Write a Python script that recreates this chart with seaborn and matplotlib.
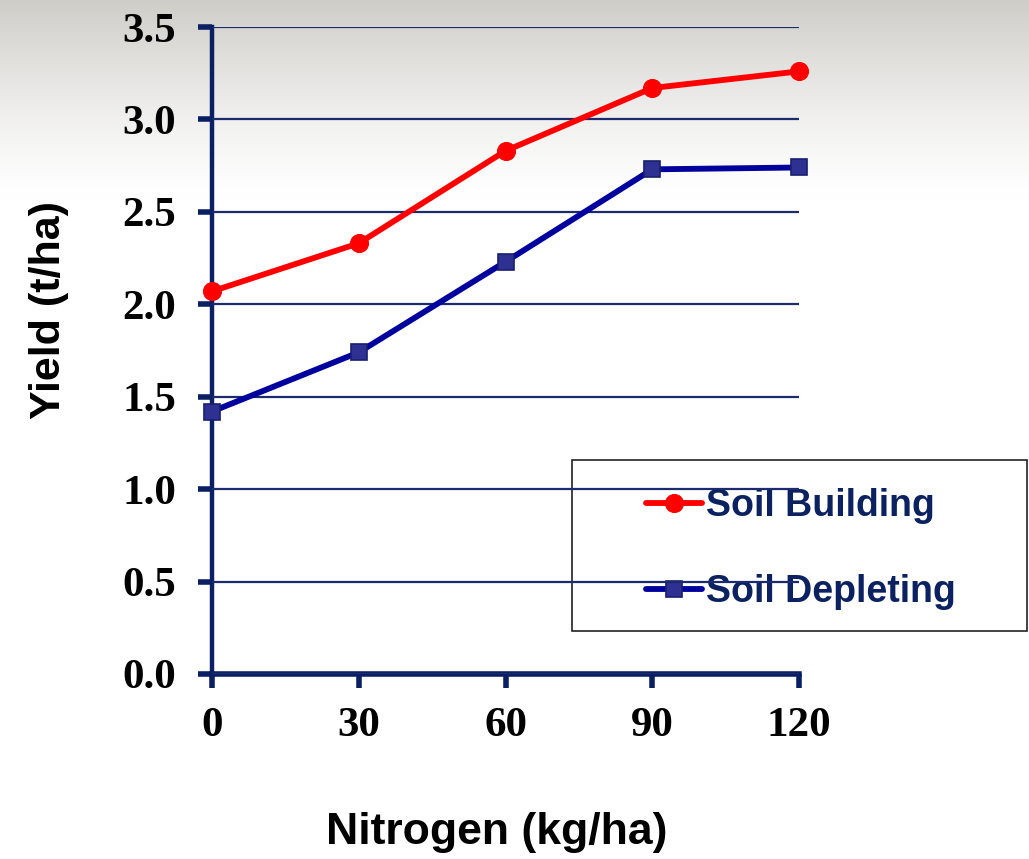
import numpy as np
import pandas as pd
import matplotlib
matplotlib.use("Agg")
import matplotlib.pyplot as plt
from matplotlib.patches import Rectangle
import seaborn as sns

# Grain yield response to nitrogen rate
nitrogen = [0, 30, 60, 90, 120]
soil_building = [2.07, 2.33, 2.83, 3.17, 3.26]
soil_depleting = [1.42, 1.74, 2.23, 2.73, 2.74]
series_names = ["Soil Building", "Soil Depleting"]
x_ticks = [0, 30, 60, 90, 120]
y_ticks = [0.0, 0.5, 1.0, 1.5, 2.0, 2.5, 3.0, 3.5]

df_building = pd.DataFrame({"N": nitrogen, "Yield": soil_building})
df_depleting = pd.DataFrame({"N": nitrogen, "Yield": soil_depleting})

sns.set_style("white")
plt.rcParams["font.family"] = ["Liberation Sans", "DejaVu Sans"]
plt.rcParams["text.color"] = "black"
plt.rcParams["axes.labelcolor"] = "black"

NAVY = "#0b1f63"
fig = plt.figure(figsize=(10.29, 8.59), dpi=100)
fig.patch.set_facecolor("white")

# soft grey wash fading out toward the middle of the page
bg = fig.add_axes([0, 0, 1, 1], zorder=-10)
rows = np.linspace(0, 1, 400)
shade = np.clip(1 - rows / 0.23, 0, 1) ** 1.3
grey = np.array([0.81, 0.805, 0.785])
img = np.ones((400, 1, 3)) * (1 - shade[:, None, None] * (1 - grey[None, None, :]))
bg.imshow(img, aspect="auto", extent=[0, 1, 0, 1], origin="upper")
bg.set_axis_off()

ax = fig.add_axes([212 / 1029, 1 - 674 / 859, (799 - 212) / 1029, (674 - 27) / 859])
ax.patch.set_alpha(0)

sns.lineplot(data=df_building, x="N", y="Yield", ax=ax, color="#ff0000", lw=4.2,
             marker="o", markersize=13, markeredgecolor="#ff0000",
             markerfacecolor="#ff0000", label=series_names[0], clip_on=False, zorder=4)
sns.lineplot(data=df_depleting, x="N", y="Yield", ax=ax, color="#00009c", lw=4.2,
             marker="s", markersize=12, markeredgecolor="#1a1f6e",
             markerfacecolor="#2e3192", markeredgewidth=1.2,
             label=series_names[1], clip_on=False, zorder=4)

handles, labels = ax.get_legend_handles_labels()
ax.get_legend().remove()

ax.set_xlim(0, 120)
ax.set_ylim(0, 3.5)
ax.set_xticks(x_ticks)
ax.set_yticks(y_ticks)
ax.set_xticklabels([str(v) for v in x_ticks])
ax.set_yticklabels([f"{v:.1f}" for v in y_ticks])
for lab in ax.get_xticklabels() + ax.get_yticklabels():
    lab.set_fontfamily("Liberation Serif")
    lab.set_fontweight("bold")
    lab.set_fontsize(31)
    lab.set_color("black")

ax.grid(axis="y", color="#1c2a6e", lw=1.6, zorder=3)
ax.grid(axis="x", visible=False)
ax.set_axisbelow(False)
for side in ["top", "right"]:
    ax.spines[side].set_visible(False)
ax.spines["left"].set_color(NAVY)
ax.spines["left"].set_linewidth(3.2)
ax.spines["bottom"].set_color(NAVY)
ax.spines["bottom"].set_linewidth(4)
ax.tick_params(axis="y", direction="out", length=10, width=4, color=NAVY, pad=16, left=True)
ax.tick_params(axis="x", direction="out", length=10, width=4, color=NAVY, pad=14, bottom=True)

ax.set_xlabel("Nitrogen (kg/ha)", fontsize=32, fontweight="bold", labelpad=48,
              color="black", x=0.4855)
ax.set_ylabel("Yield (t/ha)", fontsize=31, fontweight="bold", labelpad=38,
              color="black", y=0.5626)

# legend panel sits beneath the plot so the gridlines cross it
fig.patches.append(Rectangle((572 / 1029, 1 - 631 / 859), (1027 - 572) / 1029,
                             (631 - 460) / 859, transform=fig.transFigure,
                             facecolor="white", edgecolor="#222222", lw=1.2, zorder=-3))
leg = fig.legend(handles, labels, loc="center left",
                 bbox_to_anchor=(646 / 1029, 1 - 549 / 859), frameon=False,
                 prop={"family": "Liberation Sans", "weight": "bold", "size": 27},
                 handlelength=1.5, handletextpad=0.1, labelspacing=1.35,
                 borderpad=0, borderaxespad=0)
leg.set_zorder(-1)
for t in leg.get_texts():
    t.set_color("#0b2160")

fig.savefig("out.png", dpi=100, facecolor=fig.get_facecolor())
